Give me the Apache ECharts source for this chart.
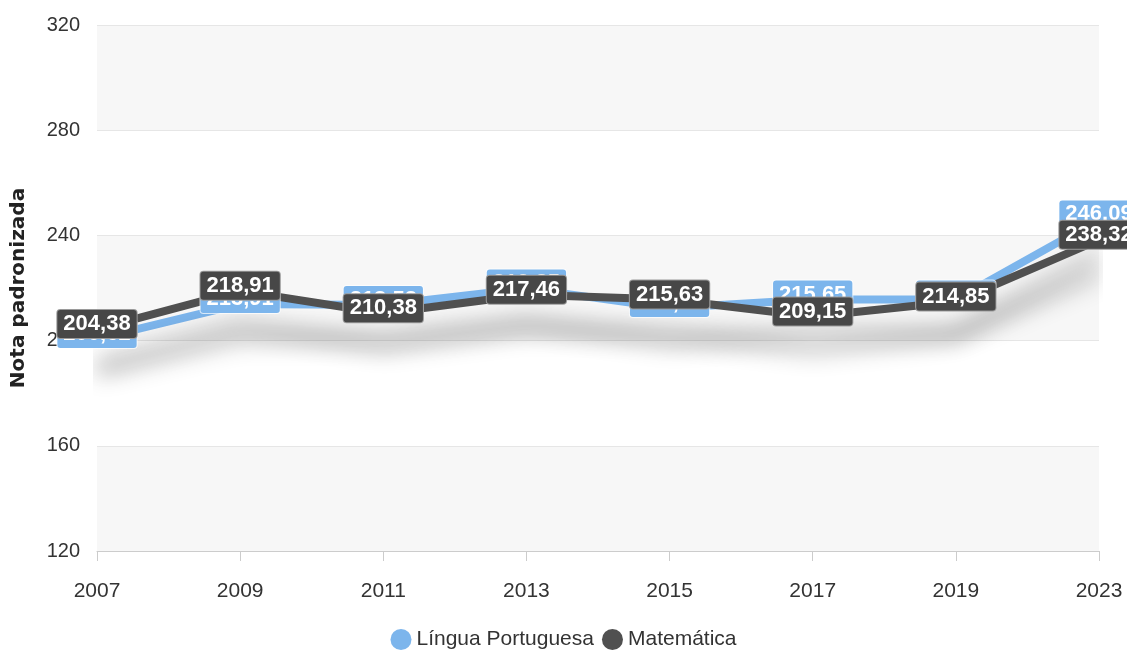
<!DOCTYPE html>
<html>
<head>
<meta charset="utf-8">
<script src="https://cdn.jsdelivr.net/npm/echarts@6/dist/echarts.min.js"></script>
<style>
  html, body { margin: 0; padding: 0; background: #ffffff; }
  #chart { width: 1127px; height: 653px; }
</style>
</head>
<body>
<div id="chart"></div>
<script>
// Anos avaliados
const anos = ['2007', '2009', '2011', '2013', '2015', '2017', '2019', '2023'];

// Notas padronizadas por disciplina
const linguaPortuguesa = [200.62, 213.91, 213.52, 219.85, 212.36, 215.65, 215.61, 246.09];
const matematica = [204.38, 218.91, 210.38, 217.46, 215.63, 209.15, 214.85, 238.32];

// Escala do eixo vertical
const yMin = 120;
const yMax = 320;
const yStep = 40;

const FONT = '"Liberation Sans", Arial, sans-serif';

const fmt = p => p.value.toFixed(2).replace('.', ',');

function serie(nome, dados, cor, fundo, borda) {
  return {
    name: nome,
    type: 'line',
    data: dados,
    symbol: 'circle',
    symbolSize: 1,
    showSymbol: true,
    lineStyle: {
      color: cor,
      width: 8,
      shadowColor: 'rgba(0,0,0,0.3)',
      shadowBlur: 22,
      shadowOffsetY: 34
    },
    itemStyle: { color: cor },
    emphasis: { disabled: true },
    label: {
      show: true,
      position: 'inside',
      offset: [0, -5],
      formatter: fmt,
      color: '#ffffff',
      fontFamily: FONT,
      fontWeight: 'bold',
      fontSize: 22,
      lineHeight: 22,
      backgroundColor: fundo,
      borderColor: borda,
      borderWidth: 1,
      borderRadius: 3,
      padding: [3, 6]
    }
  };
}

const chart = echarts.init(document.getElementById('chart'), null, { renderer: 'canvas' });

chart.setOption({
  animation: false,
  backgroundColor: '#ffffff',
  grid: { left: 97, right: 28, top: 25, bottom: 102, containLabel: false },
  legend: {
    bottom: -2,
    left: 'center',
    icon: 'circle',
    itemWidth: 21,
    itemHeight: 21,
    itemGap: 8,
    textStyle: { fontFamily: FONT, fontSize: 21, color: '#333333' },
    data: ['Língua Portuguesa', 'Matemática']
  },
  xAxis: {
    type: 'category',
    data: anos,
    boundaryGap: false,
    axisLine: { lineStyle: { color: '#cccccc', width: 1 } },
    axisTick: { show: true, length: 10, lineStyle: { color: '#cccccc' } },
    axisLabel: { fontFamily: FONT, fontSize: 21, color: '#333333', margin: 30 },
    splitLine: { show: false }
  },
  yAxis: {
    type: 'value',
    min: yMin,
    max: yMax,
    interval: yStep,
    name: 'Nota padronizada',
    nameLocation: 'middle',
    nameGap: 68,
    nameRotate: 90,
    nameTextStyle: { fontFamily: '"DejaVu Sans", sans-serif', fontSize: 20, fontWeight: 'bold', color: '#222222' },
    axisLine: { show: false },
    axisTick: { show: false },
    axisLabel: { fontFamily: FONT, fontSize: 20, color: '#333333', margin: 17 },
    splitLine: { show: true, lineStyle: { color: '#e6e6e6', width: 1 } },
    splitArea: { show: true, areaStyle: { color: ['#f7f7f7', '#ffffff'] } }
  },
  series: [
    serie('Língua Portuguesa', linguaPortuguesa, '#7cb5ec', '#7cb5ec', 'rgba(255,255,255,0.7)'),
    serie('Matemática', matematica, '#505050', '#474747', '#9a9a9a')
  ]
});
</script>
</body>
</html>
